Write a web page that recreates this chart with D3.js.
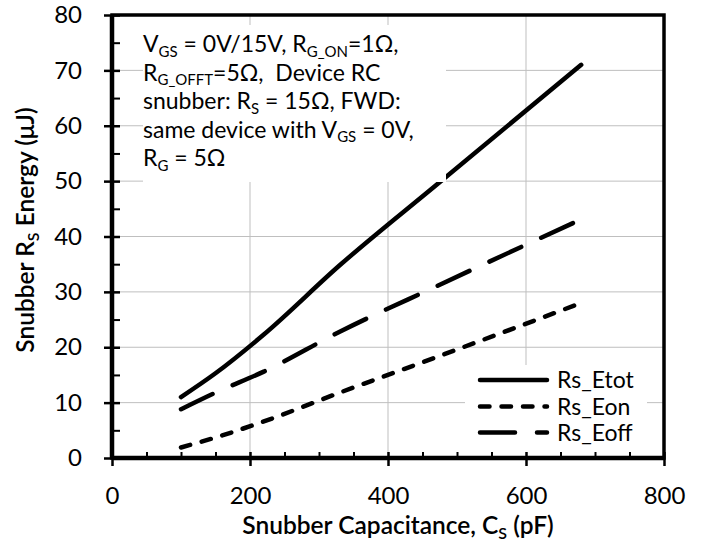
<!DOCTYPE html>
<html><head><meta charset="utf-8">
<script src="https://cdn.jsdelivr.net/npm/d3@7/dist/d3.min.js"></script>
<style>body{margin:0;background:#fff} text{font-family:Lato,"Open Sans",sans-serif;fill:#000}</style>
</head><body>
<svg id="c" width="705" height="550"></svg>
<script>
// ---- data ----
const capacitance = [100, 150, 220, 330, 470, 680];
const rsEtot = [11.0, 15.3, 22.3, 34.8, 49.3, 71.0];
const rsEon  = [1.9, 3.7, 6.6, 11.8, 18.2, 28.0];
const rsEoff = [8.8, 11.8, 15.6, 22.8, 31.0, 43.1];
const seriesNames = ["Rs_Etot", "Rs_Eon", "Rs_Eoff"];
const xTickValues = [0, 200, 400, 600, 800];
const yTickValues = [0, 10, 20, 30, 40, 50, 60, 70, 80];
const xMinorValues = [50,100,150,250,300,350,450,500,550,650,700,750];
const yMinorValues = [5,15,25,35,45,55,65,75];

const svg = d3.select("#c");
const x = d3.scaleLinear().domain([0, 800]).range([112, 664]);
const y = d3.scaleLinear().domain([0, 80]).range([458, 15]);

// gridlines
const grid = svg.append("g").attr("stroke", "#bfbfbf").attr("stroke-width", 1);
grid.selectAll(".gy").data(yTickValues.slice(1, -1)).join("line")
  .attr("x1", x(0)).attr("x2", x(800)).attr("y1", d => y(d)).attr("y2", d => y(d));
grid.selectAll(".gx").data(xTickValues.slice(1, -1)).join("line")
  .attr("y1", y(0)).attr("y2", y(80)).attr("x1", d => x(d)).attr("x2", d => x(d));

// series
const series = [
  {name: seriesNames[0], values: rsEtot, dash: null},
  {name: seriesNames[1], values: rsEon, dash: "9.5,12"},
  {name: seriesNames[2], values: rsEoff, dash: "35,22"}
];
const line = d3.line().curve(d3.curveMonotoneX).x(d => x(d[0])).y(d => y(d[1]));
series.forEach(s => {
  svg.append("path")
    .datum(capacitance.map((c, i) => [c, s.values[i]]))
    .attr("d", line).attr("fill", "none").attr("stroke", "#000")
    .attr("stroke-width", 4.5).attr("stroke-linecap", "round").attr("stroke-linejoin", "round")
    .attr("stroke-dasharray", s.dash);
});

// annotation box (white, over gridlines)
svg.append("rect").attr("x", 143).attr("y", 25).attr("width", 303).attr("height", 157).attr("fill", "#fff");
function addLine(parts, yy) {
  const t = svg.append("text").attr("x", 143).attr("y", yy).attr("font-size", 23);
  let shift = 0;
  parts.forEach(p => {
    if (typeof p === "string") {
      t.append("tspan").attr("dy", -shift).text(p);
      shift = 0;
    } else {
      t.append("tspan").attr("font-size", 15).attr("dy", 4.5 - shift).text(p.sub);
      shift = 4.5;
    }
  });
}
addLine(["V", {sub: "GS"}, " = 0V/15V, R", {sub: "G_ON"}, "=1\u03A9,"], 52);
addLine(["R", {sub: "G_OFFT"}, "=5\u03A9,\u00A0 Device RC"], 80.5);
addLine(["snubber: R", {sub: "S"}, " = 15\u03A9, FWD:"], 109);
addLine(["same device with V", {sub: "GS"}, " = 0V,"], 137.5);
addLine(["R", {sub: "G"}, " = 5\u03A9"], 166);

// legend box
svg.append("rect").attr("x", 465).attr("y", 365).attr("width", 182).attr("height", 91).attr("fill", "#fff");
const legY = [380, 406.5, 432.5];
series.forEach((s, i) => {
  svg.append("line").attr("x1", 480).attr("x2", 547).attr("y1", legY[i]).attr("y2", legY[i])
    .attr("stroke", "#000").attr("stroke-width", 4.5).attr("stroke-linecap", "round")
    .attr("stroke-dasharray", s.dash);
  svg.append("text").attr("x", 557).attr("y", legY[i] + 8).attr("font-size", 23).text(s.name);
});

// axes
const xAxis = svg.append("g").attr("transform", `translate(0,${y(0)})`)
  .call(d3.axisBottom(x).tickValues(xTickValues).tickSize(8).tickPadding(21).tickFormat(d3.format("d")));
xAxis.selectAll(".tick line").attr("y1", -6).attr("stroke-width", 2.5);
xAxis.selectAll(".tick text").attr("font-size", 24).attr("font-family", "Lato");
xAxis.select(".domain").remove();
const xMinor = svg.append("g").attr("transform", `translate(0,${y(0)})`)
  .call(d3.axisBottom(x).tickValues(xMinorValues).tickSize(-6).tickFormat(""));
xMinor.selectAll(".tick line").attr("stroke-width", 2);
xMinor.selectAll(".tick text").remove();
xMinor.select(".domain").remove();

const yAxis = svg.append("g").attr("transform", `translate(${x(0)},0)`)
  .call(d3.axisLeft(y).tickValues(yTickValues).tickSize(8).tickPadding(22));
yAxis.selectAll(".tick line").attr("x1", 8).attr("stroke-width", 2.5);
yAxis.selectAll(".tick text").attr("font-size", 24).attr("font-family", "Lato");
yAxis.select(".domain").remove();
const yMinor = svg.append("g").attr("transform", `translate(${x(0)},0)`)
  .call(d3.axisLeft(y).tickValues(yMinorValues).tickSize(-8).tickFormat(""));
yMinor.selectAll(".tick line").attr("stroke-width", 2);
yMinor.selectAll(".tick text").remove();
yMinor.select(".domain").remove();

// frame
svg.append("rect").attr("x", x(0)).attr("y", y(80)).attr("width", x(800) - x(0)).attr("height", y(0) - y(80))
  .attr("fill", "none").attr("stroke", "#000").attr("stroke-width", 3.5);
svg.append("line").attr("x1", x(0)).attr("x2", x(800)).attr("y1", y(0)).attr("y2", y(0))
  .attr("stroke", "#000").attr("stroke-width", 4.5);
svg.append("line").attr("x1", x(0)).attr("x2", x(0)).attr("y1", y(0)).attr("y2", y(80))
  .attr("stroke", "#000").attr("stroke-width", 4.5);

// axis titles
const xt = svg.append("text").attr("x", (x(0) + x(800)) / 2 + 10).attr("y", 534).attr("text-anchor", "middle")
  .attr("font-size", 24.5).attr("font-weight", 600);
xt.append("tspan").text("Snubber Capacitance, C");
xt.append("tspan").attr("font-size", 16).attr("dy", 5).text("S");
xt.append("tspan").attr("dy", -5).text(" (pF)");

const yt = svg.append("text").attr("transform", "translate(34,230) rotate(-90)").attr("text-anchor", "middle")
  .attr("font-size", 24.5).attr("font-weight", 600);
yt.append("tspan").text("Snubber R");
yt.append("tspan").attr("font-size", 16).attr("dy", 5).text("S");
yt.append("tspan").attr("dy", -5).text(" Energy (\u03BCJ)");
</script>
</body></html>
